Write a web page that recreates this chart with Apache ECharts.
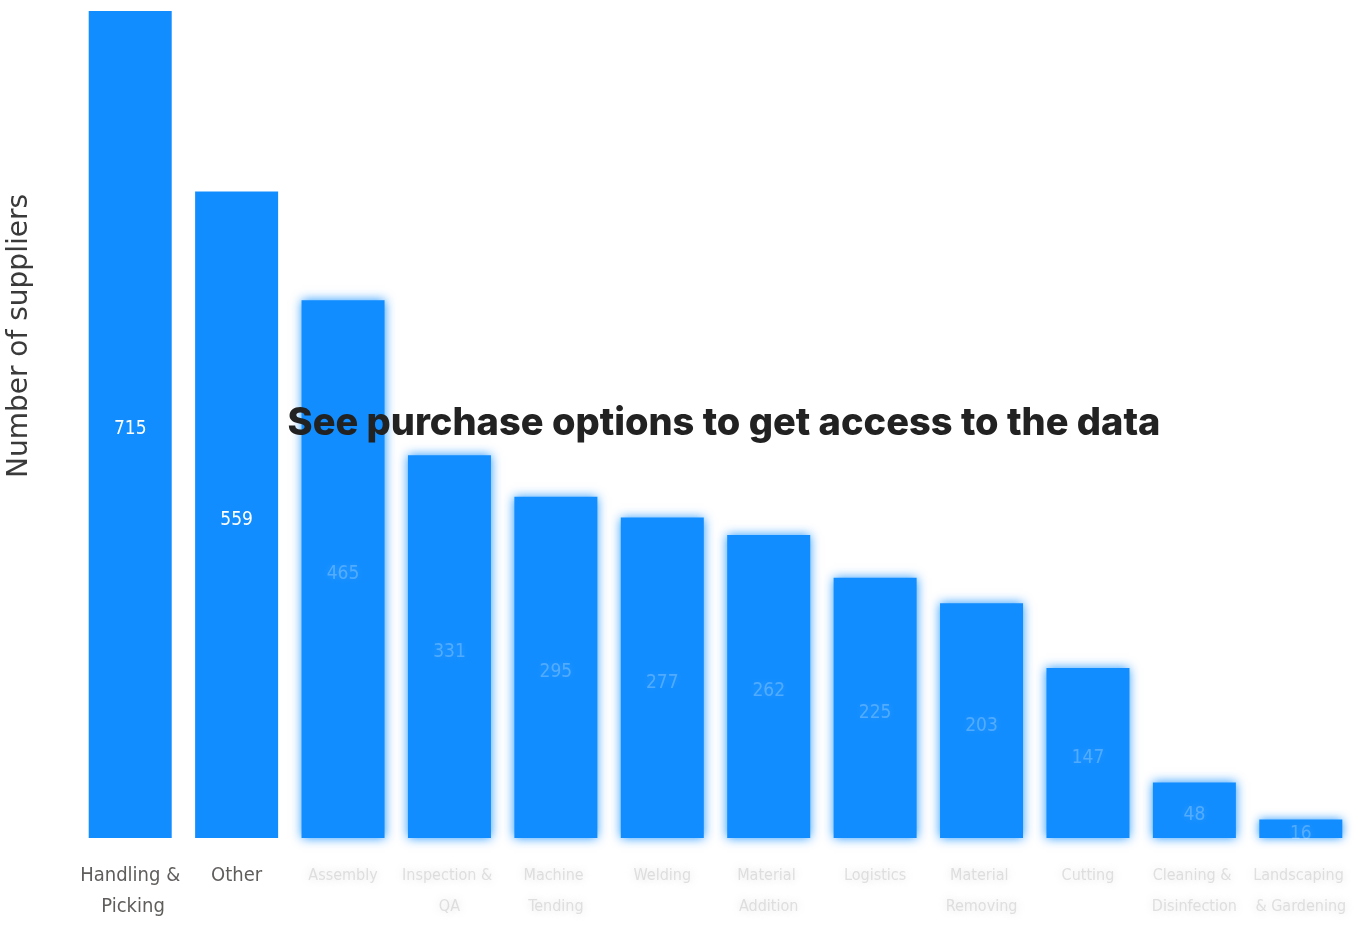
<!DOCTYPE html>
<html>
<head>
<meta charset="utf-8">
<script src="https://cdn.jsdelivr.net/npm/echarts@6/dist/echarts.min.js"></script>
<style>
  html, body { margin: 0; padding: 0; background: #fff; }
  #chart { width: 1362px; height: 952px; }
</style>
</head>
<body>
<div id="chart"></div>
<script>
// categories and supplier counts (only the first two are readable, rest estimated)
const categories = ['Handling & Picking', 'Other', 'Assembly', 'Inspection & QA', 'Machine Tending', 'Welding',
  'Material Addition', 'Logistics', 'Material Removing', 'Cutting', 'Cleaning & Disinfection', 'Landscaping & Gardening']
const suppliers = [715, 559, 465, 331, 295, 277, 262, 225, 203, 147, 48, 16]
const visibleCount = 2

const narrowFont = '"DejaVu Sans Condensed", "Liberation Sans Narrow", "Open Sans", sans-serif'

const chart = echarts.init(document.getElementById('chart'))

const option = {
  animation: false,
  grid: {
    top: 11,
    left: 77,
    right: 8,
    bottom: 114,
    containLabel: false,
    outerBoundsMode: 'none'
  },
  xAxis: {
    type: 'category',
    data: categories,
    axisLine: { show: false },
    axisTick: { show: false },
    axisLabel: {
      interval: 0,
      margin: 22,
      width: 102,
      overflow: 'break',
      lineHeight: 31,
      fontSize: 20,
      fontFamily: narrowFont,
      color: '#605E5C',
      formatter: function (value, index) {
        return index < visibleCount ? value : '{h|' + value + '}'
      },
      rich: {
        h: {
          color: 'rgba(200,200,200,0.55)',
          textShadowColor: 'rgba(190,190,190,0.9)',
          textShadowBlur: 10,
          fontSize: 16,
          lineHeight: 31,
          fontFamily: narrowFont
        }
      }
    }
  },
  yAxis: {
    type: 'value',
    min: 0,
    max: 715,
    show: false
  },
  series: [{
    type: 'bar',
    barCategoryGap: '22%',
    data: suppliers.map(function (v, i) {
      const hidden = i >= visibleCount
      return {
        value: v,
        itemStyle: hidden ? { shadowBlur: 10, shadowColor: 'rgba(17,141,255,0.9)' } : {},
        label: hidden ? { color: 'rgba(255,255,255,0.25)', textShadowBlur: 10, textShadowColor: 'rgba(255,255,255,0.7)' } : {}
      }
    }),
    itemStyle: { color: '#118DFF' },
    label: {
      show: true,
      position: 'inside',
      offset: [0, 5],
      color: '#fff',
      fontSize: 19,
      fontFamily: narrowFont
    }
  }],
  graphic: [
    {
      type: 'text',
      x: 20,
      y: 336,
      rotation: Math.PI / 2,
      style: {
        text: 'Number of suppliers',
        fontSize: 28,
        fontFamily: '"DejaVu Sans", sans-serif',
        fill: '#3a3a3a',
        align: 'center',
        verticalAlign: 'middle'
      }
    },
    {
      type: 'text',
      x: 724,
      y: 424,
      z: 100,
      style: {
        text: 'See purchase options to get access to the data',
        fontSize: 38,
        fontWeight: 800,
        fontFamily: 'Inter, Roboto, sans-serif',
        fill: '#222',
        align: 'center',
        verticalAlign: 'middle'
      }
    }
  ]
}

chart.setOption(option)
</script>
</body>
</html>
